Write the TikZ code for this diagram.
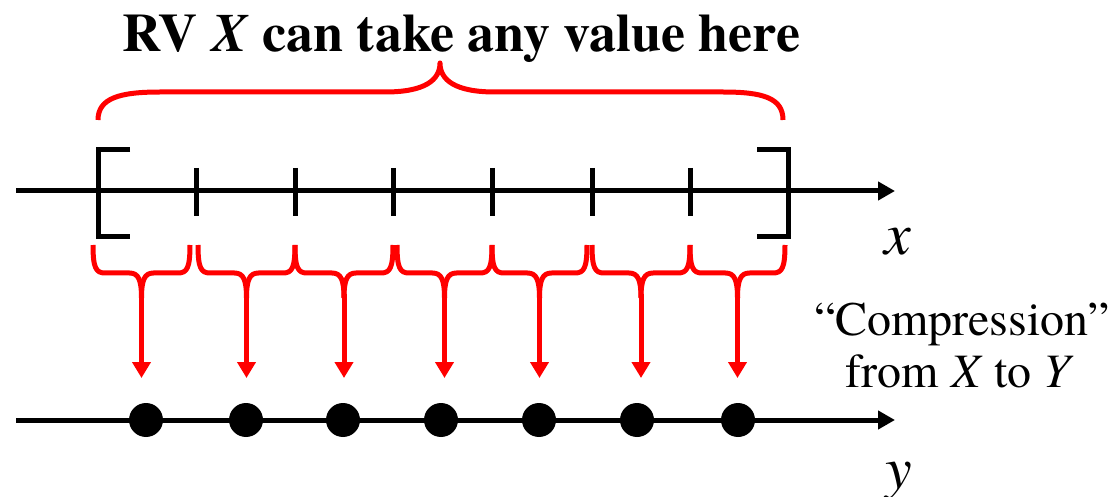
\documentclass[tikz,border=0pt]{standalone}
\usepackage{fontspec}
\setmainfont{texgyretermes}[
  Extension=.otf,
  UprightFont=*-regular,
  BoldFont=*-bold,
  ItalicFont=*-italic,
  BoldItalicFont=*-bolditalic]
\usetikzlibrary{arrows.meta}
\begin{document}
\begin{tikzpicture}[x=1pt,y=-1pt,
  axis/.style={line width=5pt, -{Triangle[width=18pt,length=17pt]}},
  bracketline/.style={line width=5pt},
  tickline/.style={line width=5pt},
  brace/.style={draw=red, line width=5pt, line join=round},
  maparrow/.style={red, line width=5pt, -{Triangle[width=18pt,length=16pt]}},
  dotnode/.style={circle, fill=black, minimum size=34pt, inner sep=0pt},
  title/.style={font=\fontsize{54}{60}\selectfont\bfseries, anchor=base},
  note/.style={font=\fontsize{48}{52}\selectfont, anchor=base},
  axislabel/.style={font=\fontsize{60}{64}\selectfont\itshape, anchor=base},
  ]
\useasboundingbox (0,0) rectangle (1117,497);

% title and the brace over the whole range
\node[title] (ttl) at (461.5,52) {RV \textit{X} can take any value here};
\draw[brace] (98,120) .. controls (98,98) and (120,92) .. (160,92)
  -- (385,92) .. controls (425,92) and (440,80) .. (440,63)
  .. controls (440,80) and (455,92) .. (495,92)
  -- (723,92) .. controls (763,92) and (783,98) .. (783,120);

% x axis with the interval and its cells
\coordinate (xs) at (16,191);
\coordinate (xe) at (895,191);
\draw[axis] (xs) -- (xe);
\draw[bracketline] (130,150) -- (98,150) -- (98,237) -- (130,237);
\draw[bracketline] (757,150) -- (788,150) -- (788,237) -- (757,237);
\foreach \tx in {196,295,393,492,592,690}
  \draw[tickline] (\tx,168) -- (\tx,216);
\node[axislabel] (xl) at (898,255) {x};

% y axis
\coordinate (ys) at (16,420);
\coordinate (ye) at (895,420);
\draw[axis] (ys) -- (ye);
\node[axislabel] (yl) at (899,488) {y};

% each cell is mapped to one point of y
\foreach \a/\b/\d [count=\i] in {93/190/146, 198/295/246, 295/393/343,
    397/492/441, 492/587/539, 592/690/637, 690/785/738} {
  \pgfmathsetmacro{\t}{(\a+\b)/2}
  \draw[brace] (\a,245) .. controls (\a,268) and (\a+3,273) .. (\a+12,273)
    -- (\t-12,273) .. controls (\t-3,273) and (\t,280) .. (\t,298);
  \draw[brace] (\b,245) .. controls (\b,268) and (\b-3,273) .. (\b-12,273)
    -- (\t+12,273) .. controls (\t+3,273) and (\t,280) .. (\t,298);
  \coordinate (tip\i) at (\t,294);
  \coordinate (end\i) at (\t,378);
  \draw[maparrow] (tip\i) -- (end\i);
  \node[dotnode] (dot\i) at (\d,420) {};
}

% side note
\node[note] (c1) at (962,335) {``Compression''};
\node[note] (c2) at (960,387) {from \textit{X} to \textit{Y}};
\end{tikzpicture}
\end{document}
